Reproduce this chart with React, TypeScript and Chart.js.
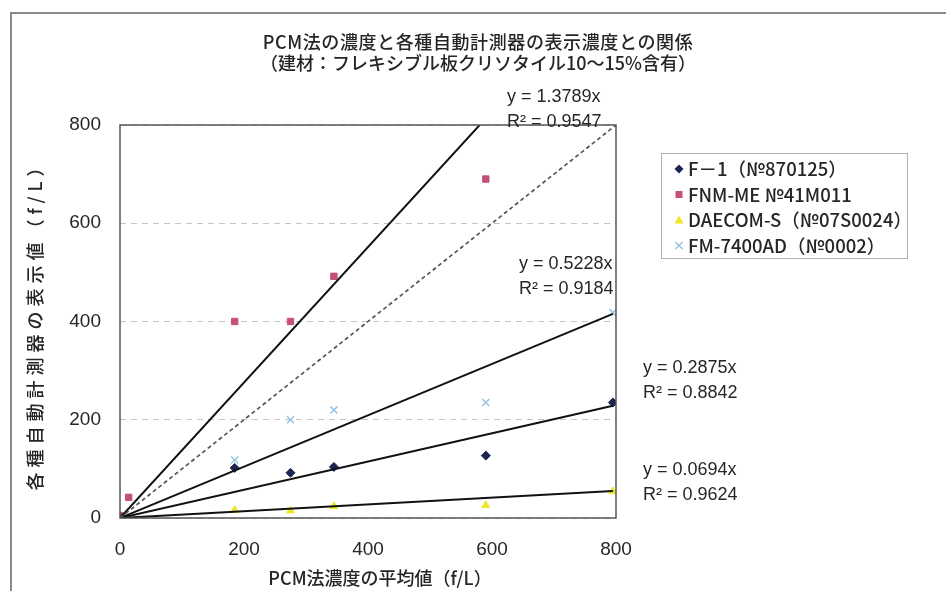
import React, { useEffect, useRef } from "react";
import { Chart, registerables } from "chart.js";

Chart.register(...registerables);

// ---- data ----
const titleLines = ["PCM法の濃度と各種自動計測器の表示濃度との関係", "（建材：フレキシブル板クリソタイル10～15%含有）"];
const xAxisTitle = "PCM法濃度の平均値（f/L）";
const yAxisTitle = "各種自動計測器の表示値（f/L）";
const axisTicks = [0, 200, 400, 600, 800];

const seriesNames = ["F－1（№870125）", "FNM-ME №41M011", "DAECOM-S（№07S0024）", "FM-7400AD（№0002）"];

const f1X = [0, 185, 275, 345, 590, 795];
const f1Y = [0, 102, 92, 104, 127, 235];
const fnmX = [0, 14, 185, 275, 345, 590];
const fnmY = [5, 42, 400, 400, 492, 690];
const daecomX = [10, 185, 275, 345, 590, 795];
const daecomY = [0, 16, 15, 24, 26, 54];
const fmX = [5, 185, 275, 345, 590, 795];
const fmY = [5, 118, 200, 220, 235, 418];

// trendline (y = a x) slopes and R² per series
const trendSlopes = [0.2875, 1.3789, 0.0694, 0.5228];
const trendR2 = ["0.8842", "0.9547", "0.9624", "0.9184"];
const refLineX = [0, 800];

const FONT = "'Liberation Sans', 'Noto Sans CJK JP', sans-serif";
const CJK = "'Noto Sans CJK JP', 'Liberation Sans', sans-serif";
const TEXT = "#262626";
const colors = ["#1c2452", "#c4507a", "#eee62a", "#94c4e2"];
const pointStyles = ["rectRot", "rect", "triangle", "crossRot"];

const pts = (xs: number[], ys: number[]) => xs.map((x, i) => ({ x, y: ys[i] }));
const trend = (xs: number[], a: number) => [
  { x: 0, y: 0 },
  { x: Math.max(...xs), y: a * Math.max(...xs) },
];

function drawMarker(ctx: CanvasRenderingContext2D, style: string, x: number, y: number, color: string) {
  ctx.save();
  ctx.fillStyle = color;
  ctx.strokeStyle = color;
  ctx.beginPath();
  if (style === "rectRot") {
    ctx.moveTo(x, y - 4.5); ctx.lineTo(x + 4.5, y); ctx.lineTo(x, y + 4.5); ctx.lineTo(x - 4.5, y); ctx.closePath(); ctx.fill();
  } else if (style === "rect") {
    ctx.rect(x - 3.5, y - 3.5, 7, 7); ctx.fill();
  } else if (style === "triangle") {
    ctx.moveTo(x, y - 4.5); ctx.lineTo(x + 4.5, y + 3.5); ctx.lineTo(x - 4.5, y + 3.5); ctx.closePath(); ctx.fill();
  } else {
    ctx.lineWidth = 1.5;
    ctx.moveTo(x - 3.5, y - 3.5); ctx.lineTo(x + 3.5, y + 3.5); ctx.moveTo(x + 3.5, y - 3.5); ctx.lineTo(x - 3.5, y + 3.5); ctx.stroke();
  }
  ctx.restore();
}

const decorPlugin = {
  id: "decor",
  beforeDraw(chart: any) {
    const ctx = chart.ctx as CanvasRenderingContext2D;
    ctx.save();
    ctx.fillStyle = "#ffffff";
    ctx.fillRect(0, 0, chart.width, chart.height);
    ctx.strokeStyle = "#8a8a8a";
    ctx.lineWidth = 2;
    ctx.strokeRect(11, 13, chart.width + 20, chart.height + 20);
    ctx.restore();
  },
  afterDraw(chart: any) {
    const ctx = chart.ctx as CanvasRenderingContext2D;
    const a = chart.chartArea;
    ctx.save();
    // plot border
    ctx.strokeStyle = "#555555";
    ctx.lineWidth = 1.5;
    ctx.strokeRect(a.left, a.top, a.right - a.left, a.bottom - a.top);
    // title
    ctx.fillStyle = TEXT;
    ctx.font = `500 18px ${CJK}`;
    ctx.textAlign = "center";
    ctx.textBaseline = "middle";
    (ctx as any).letterSpacing = "0.6px";
    ctx.fillText(titleLines[0], 478, 42);
    (ctx as any).letterSpacing = "0px";
    ctx.fillText(titleLines[1], 478, 63);
    // axis titles
    ctx.font = `500 18px ${CJK}`;
    ctx.fillText(xAxisTitle, 380, 578);
    ctx.save();
    ctx.translate(35, 322);
    ctx.rotate(-Math.PI / 2);
    (ctx as any).letterSpacing = "5px";
    ctx.fillText(yAxisTitle, 0, 0);
    ctx.restore();
    (ctx as any).letterSpacing = "0px";
    // legend
    ctx.strokeStyle = "#b0b0b0";
    ctx.lineWidth = 1;
    ctx.strokeRect(661.5, 153.5, 246, 105);
    ctx.font = `500 18.5px ${CJK}`;
    ctx.textAlign = "left";
    seriesNames.forEach((n, i) => {
      const yy = 169 + i * 25.5;
      drawMarker(ctx, pointStyles[i], 679, yy, colors[i]);
      ctx.fillStyle = TEXT;
      ctx.fillText(n, 688, yy);
    });
    // trendline equations
    const labelPos = [
      [643, 368],
      [507, 97],
      [643, 470],
      [519, 264],
    ];
    ctx.font = `18px ${FONT}`;
    ctx.fillStyle = TEXT;
    trendSlopes.forEach((s, i) => {
      const [lx, ly] = labelPos[i];
      ctx.fillText(`y = ${s.toFixed(4)}x`, lx, ly);
      ctx.fillText(`R² = ${trendR2[i]}`, lx, ly + 25);
    });
    ctx.restore();
  },
};

export default function App() {
  const ref = useRef<HTMLCanvasElement | null>(null);
  useEffect(() => {
    if (!ref.current) return;
    const xsList = [f1X, fnmX, daecomX, fmX];
    const ysList = [f1Y, fnmY, daecomY, fmY];
    const scatterSets = seriesNames.map((n, i) => ({
      type: "scatter" as const,
      label: n,
      data: pts(xsList[i], ysList[i]),
      pointStyle: pointStyles[i],
      pointRadius: i === 3 ? 5 : 4.5,
      borderWidth: i === 3 ? 1.5 : 1,
      backgroundColor: colors[i],
      borderColor: colors[i],
      order: 2,
    }));
    const trendSets = trendSlopes.map((s, i) => ({
      type: "scatter" as const,
      label: "trend" + i,
      data: trend(xsList[i], s),
      showLine: true,
      pointRadius: 0,
      borderColor: "#111111",
      borderWidth: 2,
      order: 1,
    }));
    const refSet = {
      type: "scatter" as const,
      label: "1:1",
      data: refLineX.map((x) => ({ x, y: x })),
      showLine: true,
      pointRadius: 0,
      borderColor: "#555555",
      borderWidth: 1.7,
      borderDash: [4, 3],
      order: 1,
    };
    const chart = new Chart(ref.current, {
      type: "scatter",
      data: { datasets: [...scatterSets, refSet, ...trendSets] as any },
      options: {
        animation: false,
        responsive: false,
        layout: { padding: { top: 125, right: 330, bottom: 0, left: 0 } },
        plugins: { legend: { display: false }, title: { display: false }, tooltip: { enabled: false } },
        scales: {
          x: {
            type: "linear",
            min: axisTicks[0],
            max: axisTicks[axisTicks.length - 1],
            afterBuildTicks: (sc: any) => { sc.ticks = axisTicks.map((v) => ({ value: v })); },
            afterFit: (sc: any) => { sc.height = 73; },
            grid: { display: false, drawTicks: false },
            border: { display: false },
            ticks: { color: TEXT, font: { family: FONT, size: 19 }, padding: 20, maxRotation: 0 },
            title: { display: false },
          },
          y: {
            type: "linear",
            min: axisTicks[0],
            max: axisTicks[axisTicks.length - 1],
            afterBuildTicks: (sc: any) => { sc.ticks = axisTicks.map((v) => ({ value: v })); },
            afterFit: (sc: any) => { sc.width = 120; },
            grid: { color: "#c4c4c4", lineWidth: 1, drawTicks: false },
            border: { display: false, dash: [6, 5] },
            ticks: { color: TEXT, font: { family: FONT, size: 19 }, padding: 19 },
            title: { display: false },
          },
        },
      },
      plugins: [decorPlugin],
    });
    return () => chart.destroy();
  }, []);
  return (
    <div style={{ position: "absolute", left: 0, top: 0, width: 946, height: 591 }}>
      <canvas ref={ref} width={946} height={591} style={{ width: 946, height: 591 }} />
    </div>
  );
}
